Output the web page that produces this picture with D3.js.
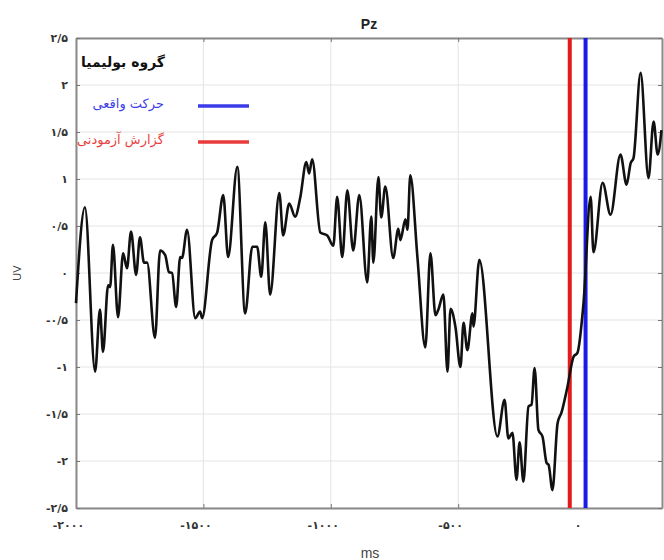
<!DOCTYPE html>
<html>
<head>
<meta charset="utf-8">
<script src="https://cdn.jsdelivr.net/npm/d3@7"></script>
<style>
  body { margin: 0; background: #fff; }
  svg { display: block; }
  .grid line { stroke: #e4e4e4; stroke-width: 1; }
  .tick-lbl { font-family: "DejaVu Sans", sans-serif; font-size: 11px; font-weight: bold; fill: #333; }
</style>
</head>
<body>
<svg width="664" height="560"></svg>
<script>
// waveform samples (ms, uV)
const timeMs = [-2000, -1965, -1925, -1906, -1894, -1874, -1866, -1855, -1835, -1815, -1800, -1784, -1764, -1749, -1733, -1721,
  -1690, -1670, -1650, -1635, -1623, -1607, -1591, -1584, -1564, -1532, -1513, -1505, -1466, -1446, -1422, -1403, -1367,
  -1336, -1308, -1289, -1273, -1257, -1238, -1202, -1187, -1163, -1140, -1120, -1096, -1085, -1073, -1041, -1014, -990,
  -975, -955, -935, -912, -888, -857, -841, -833, -813, -802, -786, -755, -735, -727, -707, -699, -688, -660, -629, -609,
  -589, -578, -558, -542, -530, -511, -491, -479, -464, -444, -440, -417, -346, -318, -303, -287, -271, -259, -244, -224,
  -212, -200, -185, -169, -153, -145, -130, -110, -94, -71, -47, -32, -8, 20, 31, 67, 98, 137, 161, 177, 188, 216, 247,
  267, 283, 298];
const uV = [-0.32, 0.70, -1.05, -0.39, -0.84, -0.13, -0.15, 0.30, -0.47, 0.21, 0.05, 0.44, -0.02, 0.38, 0.11, 0.11,
  -0.69, 0.24, 0.19, 0.01, 0.00, -0.36, 0.17, 0.16, 0.46, -0.48, -0.41, -0.48, 0.35, 0.43, 0.83, 0.17, 1.13,
  -0.43, 0.28, 0.28, -0.04, 0.54, -0.23, 0.85, 0.40, 0.74, 0.60, 0.80, 1.18, 1.06, 1.21, 0.43, 0.40, 0.29,
  0.81, 0.17, 0.88, 0.24, 0.83, -0.10, 0.60, 0.11, 1.02, 0.59, 0.92, 0.16, 0.47, 0.35, 0.57, 0.46, 1.04, 0.17, -0.79, 0.21,
  -0.45, -0.39, -0.23, -1.05, -0.38, -0.57, -1.00, -0.53, -0.82, -0.43, -0.57, 0.14, -1.74, -1.35, -1.76, -1.70, -2.20, -1.80, -2.22, -1.42,
  -1.40, -1.01, -1.67, -1.74, -2.02, -2.04, -2.31, -1.60, -1.48, -1.21, -0.89, -0.85, -0.32, 0.81, 0.22, 0.96, 0.62, 1.26, 0.94, 1.17, 1.22, 2.13, 1.01,
  1.61, 1.26, 1.52];

const xTicks = [-2000, -1500, -1000, -500, 0];
const yTicks = [2.5, 2, 1.5, 1, 0.5, 0, -0.5, -1, -1.5, -2, -2.5];

// event markers
const markerNames = ["حرکت واقعی", "گزارش آزمودنی"];
const markerTimes = [0, -62];
const markerColors = ["#1a1ae6", "#e61a1a"];
const legendTitle = "گروه بولیمیا";

const svg = d3.select("svg");
const margin = { left: 76, right: 2, top: 38, bottom: 52 };
const W = +svg.attr("width"), H = +svg.attr("height");

const x = d3.scaleLinear().domain([-2000, 300]).range([margin.left, W - margin.right]);
const y = d3.scaleLinear().domain([-2.5, 2.5]).range([H - margin.bottom, margin.top]);

// persian digits, "/" as decimal mark
const fa = v => String(v).replace(/\d/g, d => "۰۱۲۳۴۵۶۷۸۹"[d]).replace(".", "/");

// grid
const grid = svg.append("g").attr("class", "grid");
grid.selectAll(".gx").data(xTicks).enter().append("line")
  .attr("x1", d => x(d)).attr("x2", d => x(d)).attr("y1", y(2.5)).attr("y2", y(-2.5));
grid.selectAll(".gy").data(yTicks).enter().append("line")
  .attr("x1", x.range()[0]).attr("x2", x.range()[1]).attr("y1", d => y(d)).attr("y2", d => y(d));

// axes with inward ticks on all sides
const axCol = "#8a8a8a";
const gB = svg.append("g").attr("transform", `translate(0,${y(-2.5)})`)
  .call(d3.axisBottom(x).tickValues(xTicks).tickSize(-4).tickSizeOuter(0).tickFormat(fa));
const gT = svg.append("g").attr("transform", `translate(0,${y(2.5)})`)
  .call(d3.axisTop(x).tickValues(xTicks).tickSize(-4).tickSizeOuter(0).tickFormat(""));
const gL = svg.append("g").attr("transform", `translate(${x(-2000)},0)`)
  .call(d3.axisLeft(y).tickValues(yTicks).tickSize(-4).tickSizeOuter(0).tickFormat(fa));
const gR = svg.append("g").attr("transform", `translate(${x(300)},0)`)
  .call(d3.axisRight(y).tickValues(yTicks).tickSize(-4).tickSizeOuter(0).tickFormat(""));
[gB, gT, gL, gR].forEach(g => {
  g.select(".domain").attr("stroke", axCol).attr("stroke-width", 2);
  g.selectAll(".tick line").attr("stroke", "#777");
  g.selectAll("text").attr("class", "tick-lbl");
});
gB.selectAll("text").attr("dy", "1.6em").attr("dx", -8);
gL.selectAll("text").attr("x", -8);

// markers
svg.append("g").selectAll("line").data(markerTimes).enter().append("line")
  .attr("x1", d => x(d)).attr("x2", d => x(d))
  .attr("y1", y(2.5)).attr("y2", y(-2.5))
  .attr("stroke", (d, i) => markerColors[i]).attr("stroke-width", 4);

// waveform
const pts = timeMs.map((t, i) => [t, uV[i]]);
svg.append("path").datum(pts)
  .attr("fill", "none").attr("stroke", "#111").attr("stroke-width", 2.6)
  .attr("stroke-linejoin", "round")
  .attr("d", d3.line().x(d => x(d[0])).y(d => y(d[1])).curve(d3.curveMonotoneX));

// legend
const lg = svg.append("g").attr("font-family", "DejaVu Sans, sans-serif");
lg.append("text").attr("x", 165).attr("y", 67).attr("text-anchor", "end")
  .attr("font-size", 14).attr("font-weight", "bold").attr("fill", "#111").text(legendTitle);
const legY = [104, 140];
markerNames.forEach((n, i) => {
  lg.append("text").attr("x", 164).attr("y", legY[i] + 4).attr("text-anchor", "end")
    .attr("font-size", 13).attr("fill", markerColors[i]).attr("opacity", 0.85).text(n);
  lg.append("line").attr("x1", 198).attr("x2", 249).attr("y1", legY[i] + 2).attr("y2", legY[i] + 2)
    .attr("stroke", markerColors[i]).attr("stroke-width", 3.5).attr("opacity", 0.85);
});

// titles
svg.append("text").attr("x", (x.range()[0] + x.range()[1]) / 2).attr("y", 29)
  .attr("text-anchor", "middle").attr("font-family", "Liberation Sans, Arial, sans-serif")
  .attr("font-size", 14).attr("font-weight", "bold").attr("fill", "#222").text("Pz");
svg.append("text").attr("transform", `translate(21,${y(0)}) rotate(-90)`)
  .attr("text-anchor", "middle").attr("font-family", "Liberation Sans, Arial, sans-serif")
  .attr("font-size", 11).attr("fill", "#444").text("UV");
svg.append("text").attr("x", 370).attr("y", 558)
  .attr("text-anchor", "middle").attr("font-family", "Liberation Sans, Arial, sans-serif")
  .attr("font-size", 14).attr("fill", "#444").text("ms");
</script>
</body>
</html>
